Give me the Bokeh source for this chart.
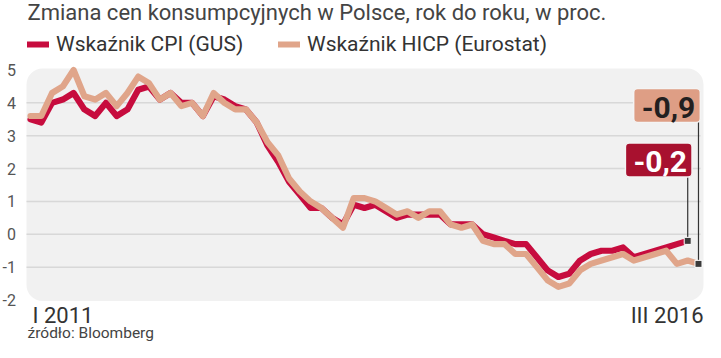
from bokeh.plotting import figure
from bokeh.models import Label, Legend, LegendItem, BoxAnnotation, Range1d
from bokeh.embed import file_html
from bokeh.resources import INLINE
from bokeh.core.properties import value

# ---------------- data ----------------
TITLE = "Zmiana cen konsumpcyjnych w Polsce, rok do roku, w proc."
SOURCE = "źródło: Bloomberg"
CPI_NAME = "Wskaźnik CPI (GUS)"
HICP_NAME = "Wskaźnik HICP (Eurostat)"
START_LABEL = "I 2011"
END_LABEL = "III 2016"

# monthly, from I 2011 (dark series ends II 2016)
cpi_gus = [
    3.5, 3.4, 4.0, 4.1, 4.3, 3.8, 3.6, 4.0, 3.6, 3.8, 4.4, 4.5,
    4.1, 4.3, 4.0, 4.0, 3.6, 4.2, 4.1, 3.9, 3.8, 3.4, 2.7, 2.2,
    1.6, 1.2, 0.8, 0.8, 0.5, 0.3, 0.9, 0.8, 0.9, 0.7, 0.5, 0.6,
    0.6, 0.6, 0.6, 0.3, 0.3, 0.3, 0.0, -0.1, -0.2, -0.3, -0.3, -0.7,
    -1.1, -1.3, -1.2, -0.8, -0.6, -0.5, -0.5, -0.4, -0.7, -0.6, -0.5, -0.4,
    -0.3, -0.2,
]
# monthly, from I 2011 to III 2016
hicp_eurostat = [
    3.6, 3.6, 4.3, 4.5, 5.0, 4.2, 4.1, 4.3, 3.9, 4.3, 4.8, 4.6,
    4.1, 4.3, 3.9, 4.0, 3.6, 4.3, 4.0, 3.8, 3.8, 3.4, 2.8, 2.4,
    1.7, 1.3, 1.0, 0.8, 0.5, 0.2, 1.1, 1.1, 1.0, 0.8, 0.6, 0.7,
    0.5, 0.7, 0.7, 0.3, 0.2, 0.3, -0.2, -0.3, -0.3, -0.6, -0.6, -1.0,
    -1.4, -1.6, -1.5, -1.1, -0.9, -0.8, -0.7, -0.6, -0.8, -0.7, -0.6, -0.5,
    -0.9, -0.8, -0.9,
]
y_ticks = [-2, -1, 0, 1, 2, 3, 4, 5]
grid_values = [-1, 0, 1, 2, 3, 4]

# ---------------- style / layout (figure pixel geometry) ----------------
W, H = 705, 342
X0_PX, SX = 30.0, 10.774   # px of first month, px per month
Y0_PX, SY = 233.8, 32.857  # px of value 0, px per unit
PANEL = dict(left=26, right=703, top=68, bottom=300.5)
DARK = "#C70C3E"
LIGHT = "#E0A58A"
DARK_BOX = "#A8112F"
LIGHT_BOX = "#DE9E85"
FONT = "Roboto"


def px_to_x(px):
    return (px - X0_PX) / SX


def py_to_y(py):
    return (Y0_PX - py) / SY


p = figure(width=W, height=H, output_backend="svg", toolbar_location=None,
           x_range=Range1d(px_to_x(0), px_to_x(W)),
           y_range=Range1d(py_to_y(H), py_to_y(0)),
           x_axis_location=None, y_axis_location=None,
           min_border=0)
p.min_border_left = p.min_border_right = p.min_border_top = p.min_border_bottom = 0
p.outline_line_color = None
p.background_fill_color = "white"
p.border_fill_color = "white"
p.xgrid.visible = False
p.ygrid.visible = False

panel = BoxAnnotation(left=px_to_x(PANEL["left"]), right=px_to_x(PANEL["right"]),
                      top=py_to_y(PANEL["top"]), bottom=py_to_y(PANEL["bottom"]),
                      fill_color="#F1F1F1", fill_alpha=1.0, line_color=None,
                      border_radius=16, level="image")
p.add_layout(panel)

# grid lines
p.segment(x0=[px_to_x(PANEL["left"])] * len(grid_values), y0=grid_values,
          x1=[px_to_x(PANEL["right"] - 3)] * len(grid_values), y1=grid_values,
          line_color="#D8D8D8", line_width=1.5)

# y tick labels
p.text(x=[px_to_x(15.5)] * len(y_ticks), y=y_ticks, text=[str(t) for t in y_ticks],
       text_align="right", text_baseline="middle", text_font=value(FONT),
       text_font_size="16px", text_color="#555555")

xc = list(range(len(cpi_gus)))
xh = list(range(len(hicp_eurostat)))
r_cpi = p.line(xc, cpi_gus, line_color=DARK, line_width=6.2,
               line_join="round", line_cap="round")
r_hicp = p.line(xh, hicp_eurostat, line_color=LIGHT, line_width=6.2,
                line_join="round", line_cap="round")


def fmt(v):
    return f"{v:.1f}".replace(".", ",")


callouts = [
    (xh[-1], hicp_eurostat[-1], py_to_y(105.0), -31.5, LIGHT_BOX, "#231F20"),
    (xc[-1], cpi_gus[-1], py_to_y(159.5), -29.0, DARK_BOX, "white"),
]
for xi, yv, yb, xoff, bg, tc in callouts:
    p.segment(x0=[xi], y0=[yv], x1=[xi], y1=[yb], line_color="#333333", line_width=1.2)
    p.scatter([xi], [yv], marker="square", size=7, fill_color="#3A3A3A",
              line_color="white", line_width=1)
    p.add_layout(Label(x=xi, y=yb, x_offset=xoff, text=fmt(yv), text_align="center",
                       text_baseline="middle", text_font=FONT,
                       text_font_size="30px", text_font_style="bold", text_color=tc,
                       background_fill_color=bg, border_line_color="#F4F4F4",
                       border_line_width=1.5, border_radius=4, padding=(8, 5, 8, 5)))

# legends (location: bottom-left corner, px from frame bottom-left)
for r, name, lx in [(r_cpi, CPI_NAME, 27), (r_hicp, HICP_NAME, 278)]:
    lg = Legend(items=[LegendItem(label=name, renderers=[r])],
                location=(lx, H - 56),
                padding=0, margin=0, border_line_color=None, background_fill_alpha=0,
                glyph_width=22, glyph_height=22, label_height=22, label_standoff=7,
                label_text_font=FONT, label_text_font_size="21px", label_text_color="#333333")
    p.add_layout(lg)


def page_label(text, px, baseline_py, size_px, color, align="left"):
    # anchor at the text's vertical middle (Roboto: ~0.345 em above the baseline)
    p.add_layout(Label(x=px_to_x(px), y=py_to_y(baseline_py - 0.345 * size_px),
                       text=text, text_align=align, text_baseline="middle",
                       text_font=FONT, text_font_size=f"{size_px}px", text_color=color))


page_label(TITLE, 27, 20.0, 22, "#444444")
page_label(START_LABEL, 32, 322.5, 22, "#333333")
page_label(END_LABEL, 703, 322.5, 22, "#333333", align="right")
page_label(SOURCE, 27, 337.5, 15.5, "#444444")

open("out.html", "w").write(file_html(p, INLINE))
